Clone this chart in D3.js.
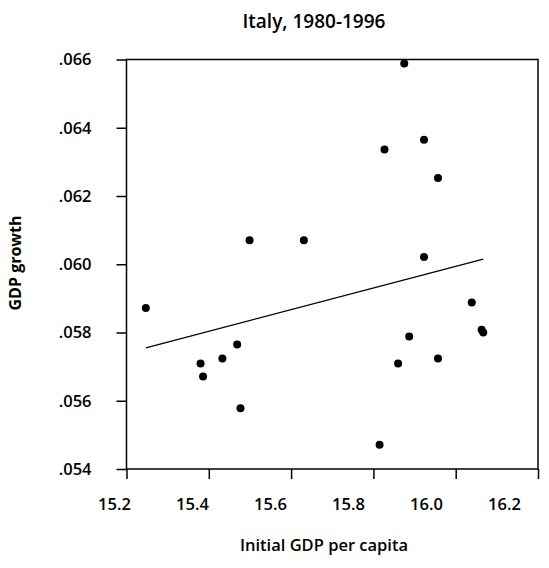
<!DOCTYPE html>
<html>
<head>
<meta charset="utf-8">
<script src="https://cdn.jsdelivr.net/npm/d3@7"></script>
<style>
  body { margin: 0; background: #fff; }
  text { font-family: "Open Sans", "DejaVu Sans", sans-serif; fill: #000; }
</style>
</head>
<body>
<div id="chart"></div>
<script>
// data
const gdpInit = [15.247, 15.380, 15.386, 15.433, 15.469, 15.477, 15.499, 15.631, 15.815, 15.827,
                 15.860, 15.875, 15.887, 15.923, 15.923, 15.957, 15.957, 16.039, 16.063, 16.067];
const gdpGrowth = [0.05872, 0.05709, 0.05671, 0.05724, 0.05765, 0.05578, 0.06070, 0.06070, 0.05471, 0.06336,
                   0.05709, 0.06588, 0.05788, 0.06365, 0.06021, 0.06253, 0.05724, 0.05888, 0.05808, 0.05800];
// fitted line end points
const fitX = [15.247, 16.067];
const fitY = [0.05755, 0.06015];
const xTicks = [15.2, 15.4, 15.6, 15.8, 16.0, 16.2];
const yTicks = [0.054, 0.056, 0.058, 0.060, 0.062, 0.064, 0.066];

const width = 549;
const height = 568;
const margin = {top: 59.5, right: 11, bottom: 99, left: 126.5};

const svg = d3.select("#chart")
    .append("svg")
    .attr("width", width)
    .attr("height", height);

const x = d3.scaleLinear()
    .domain([15.2, 16.2])
    .range([margin.left, width - margin.right]);

const y = d3.scaleLinear()
    .domain([0.054, 0.066])
    .range([height - margin.bottom, margin.top]);

// labels under the x axis sit a little tighter than the ticks
const xLab = d3.scaleLinear()
    .domain([15.2, 16.2])
    .range([114, 504]);

// frame
svg.append("rect")
    .attr("x", x(15.2))
    .attr("y", y(0.066))
    .attr("width", x(16.2) - x(15.2))
    .attr("height", y(0.054) - y(0.066))
    .attr("fill", "none")
    .attr("stroke", "#000")
    .attr("stroke-width", 1.5);

// x axis
const xAxis = svg.append("g")
    .attr("transform", "translate(0," + y(0.054) + ")")
    .call(d3.axisBottom(x).tickValues(xTicks).tickSize(10).tickFormat(d3.format(".1f")));
xAxis.select(".domain").remove();
xAxis.selectAll("line").attr("stroke-width", 1.5);
xAxis.selectAll("text")
    .attr("x", d => xLab(d) - x(d))
    .attr("y", 41)
    .attr("dy", 0)
    .style("font-size", "16.5px")
    .style("font-weight", 600)
    .style("font-family", "'Open Sans', sans-serif");

// y axis
const yAxis = svg.append("g")
    .attr("transform", "translate(" + x(15.2) + ",0)")
    .call(d3.axisLeft(y).tickValues(yTicks).tickSize(10).tickFormat(d => d3.format(".3f")(d).replace(/^0/, "")));
yAxis.select(".domain").remove();
yAxis.selectAll("line").attr("stroke-width", 1.5);
yAxis.selectAll("text")
    .attr("x", -35)
    .style("font-size", "16.5px")
    .style("font-weight", 600)
    .style("font-family", "'Open Sans', sans-serif");

// fitted line
svg.append("line")
    .attr("x1", x(fitX[0]))
    .attr("y1", y(fitY[0]))
    .attr("x2", x(fitX[1]))
    .attr("y2", y(fitY[1]))
    .attr("stroke", "#000")
    .attr("stroke-width", 1.3);

// points
svg.selectAll("circle")
    .data(gdpInit)
    .enter()
    .append("circle")
    .attr("cx", d => x(d))
    .attr("cy", (d, i) => y(gdpGrowth[i]))
    .attr("r", 4)
    .attr("fill", "#000");

// title and axis titles
svg.append("text")
    .attr("x", 314)
    .attr("y", 28)
    .attr("text-anchor", "middle")
    .style("font-size", "19px")
    .style("font-weight", 600)
    .text("Italy, 1980-1996");

svg.append("text")
    .attr("x", 324)
    .attr("y", 551)
    .attr("text-anchor", "middle")
    .style("font-size", "16.5px")
    .style("font-weight", 600)
    .text("Initial GDP per capita");

svg.append("text")
    .attr("transform", "translate(21,263) rotate(-90)")
    .attr("text-anchor", "middle")
    .style("font-size", "16px")
    .style("font-weight", 700)
    .text("GDP growth");
</script>
</body>
</html>
